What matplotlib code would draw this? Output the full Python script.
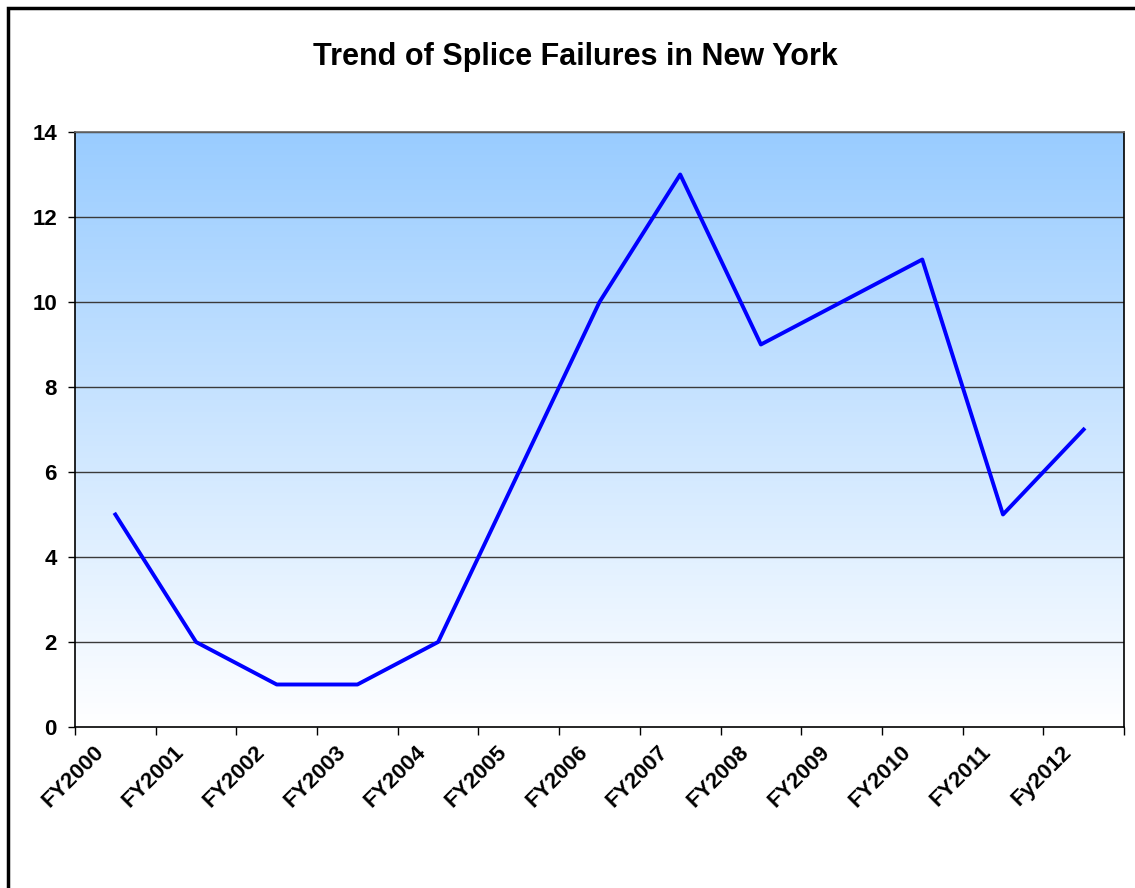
import numpy as np
import matplotlib.pyplot as plt
from matplotlib.patches import Rectangle
from matplotlib.colors import LinearSegmentedColormap
from matplotlib.transforms import ScaledTranslation

plt.rcParams['font.family'] = ['Liberation Sans', 'DejaVu Sans']
plt.rcParams['font.weight'] = 'bold'

years = ['FY2000', 'FY2001', 'FY2002', 'FY2003', 'FY2004', 'FY2005', 'FY2006',
         'FY2007', 'FY2008', 'FY2009', 'FY2010', 'FY2011', 'Fy2012']
failures = [5, 2, 1, 1, 2, 6, 10, 13, 9, 10, 11, 5, 7]

fig = plt.figure(figsize=(11.35, 8.88), dpi=100)
ax = fig.add_axes([75 / 1135, 1 - 727 / 888, 1049 / 1135, 595 / 888])

n = len(years)
x = np.arange(n)
ax.set_xlim(-0.5, n - 0.5)
ax.set_ylim(0, 14)

# gradient background, light blue at top to white at bottom
cmap = LinearSegmentedColormap.from_list('bg', ['#ffffff', '#99ccff'])
grad = np.linspace(0, 1, 256).reshape(-1, 1)
ax.imshow(grad, cmap=cmap, aspect='auto', origin='lower',
          extent=(-0.5, n - 0.5, 0, 14), zorder=0)

for yv in range(2, 15, 2):
    ax.axhline(yv, color='#3a3a3a', lw=1.0, zorder=1)

ax.plot(x, failures, color='#0000ff', lw=2.8, zorder=3)

ax.set_yticks(range(0, 15, 2))
ax.tick_params(axis='y', direction='out', length=5, width=1, labelsize=16, pad=8)

ax.set_xticks(x)
ax.set_xticklabels(years, rotation=45, ha='right', va='center',
                   rotation_mode='anchor', fontsize=16)
ax.tick_params(axis='x', which='major', length=0, pad=16)
ax.set_xticks(np.arange(n + 1) - 0.5, minor=True)
ax.tick_params(axis='x', which='minor', direction='out', length=6, width=1)
shift = ScaledTranslation(-15 / 100, 0, fig.dpi_scale_trans)
for lbl in ax.get_xticklabels():
    lbl.set_transform(lbl.get_transform() + shift)

for s in ax.spines.values():
    s.set_linewidth(1.2)
    s.set_color('black')
ax.spines['top'].set_color('#666666')

fig.text(0.5066, 1 - 57 / 888, 'Trend of Splice Failures in New York',
         ha='center', va='center', fontsize=22, fontweight='bold')

# outer chart frame, cut off at right and bottom
fig.patches.append(Rectangle((8 / 1135, -0.1), 1.2, 1 - 8 / 888 + 0.1,
                             transform=fig.transFigure, fill=False,
                             edgecolor='black', lw=2.5))

fig.savefig('out.png', dpi=100)
